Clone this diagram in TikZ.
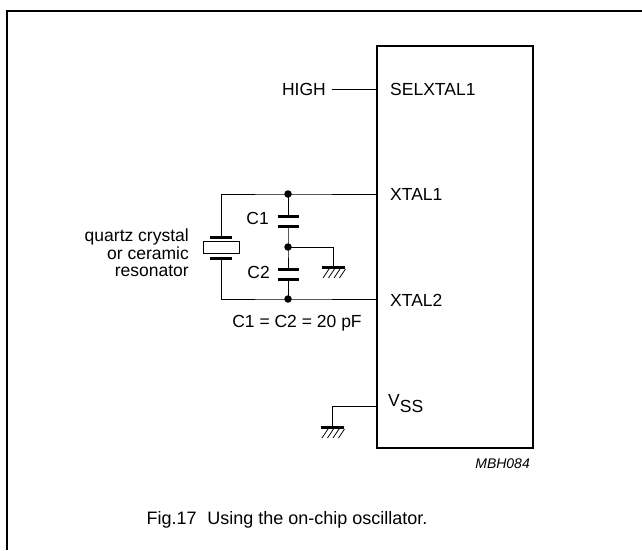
\documentclass[tikz,border=0pt]{standalone}
\usepackage{fontspec}
\setmainfont{Liberation Sans}
\begin{document}
\begin{tikzpicture}[x=1pt,y=-1pt,
  wire/.style={line width=1pt},
  chipbox/.style={line width=2.4pt},
  frameline/.style={line width=1.6pt},
  lbl/.style={font=\fontsize{17.5}{17.5}\selectfont, inner sep=0pt},
  capt/.style={font=\fontsize{18}{20}\selectfont, inner sep=0pt},
  code/.style={font=\fontsize{14}{14}\itshape, inner sep=0pt},
  junc/.style={circle, fill, inner sep=0pt, minimum size=7.5pt},
  plate/.style={line width=3pt},
  gnd/.pic={
    \draw[line width=3pt] (-11.5,0) -- (11.5,0);
    \foreach \i in {0,...,3} \draw[line width=0.8pt] (-10+5.5*\i,11) -- (-4+5.5*\i,2);
  }]
\useasboundingbox (0,0) rectangle (642,550);
% outer frame
\draw[frameline] (642,11) -- (7,11) -- (7,550);
% chip
\draw[chipbox] (377,46) rectangle (533,448);
\coordinate (pSel) at (377,89);
\coordinate (pX1) at (377,194);
\coordinate (pX2) at (377,299);
\coordinate (pVss) at (377,406);
\node[lbl, anchor=west] (tSel) at (390,89) {SELXTAL1};
\node[lbl, anchor=west] (tX1) at (390,194) {XTAL1};
\node[lbl, anchor=west] (tX2) at (390,300) {XTAL2};
\node[lbl, anchor=west] (tVss) at (388,404) {V\raisebox{-6pt}{SS}};
% HIGH
\node[lbl, anchor=east, inner xsep=6pt] (tHigh) at (332,89) {HIGH};
\draw[wire] (tHigh.east) -- (pSel);
% crystal network
\coordinate (nTop) at (288,194);
\coordinate (nMid) at (288,247);
\coordinate (nBot) at (288,299);
\coordinate (xTL) at (221,194);
\coordinate (xBL) at (221,299);
\coordinate (xT) at (221,237);
\coordinate (xB) at (221,258);
\coordinate (c1a) at (288,216);
\coordinate (c1b) at (288,226);
\coordinate (c2a) at (288,269);
\coordinate (c2b) at (288,279);
\coordinate (g1) at (333,267);
\coordinate (g2) at (332,427);
\draw[wire] (pX1) -- (nTop) -- (xTL) -- (xT);
\draw[wire] (pX2) -- (nBot) -- (xBL) -- (xB);
\node[draw, wire, minimum width=36pt, minimum height=12pt, inner sep=0pt] (xtal) at (221,247) {};
\draw[plate] ([xshift=-11pt]xT) -- ([xshift=11pt]xT);
\draw[plate] ([xshift=-11pt]xB) -- ([xshift=11pt]xB);
\draw[wire] (nTop) -- (c1a) (c1b) -- (nMid) -- (c2a) (c2b) -- (nBot);
\foreach \c in {c1a,c1b,c2a,c2b} \draw[plate] ([xshift=-10.5pt]\c) -- ([xshift=10.5pt]\c);
\draw[wire] (nMid) -| (g1);
\pic at (g1) {gnd};
\node[junc] (dTop) at (nTop) {};
\node[junc] (dMid) at (nMid) {};
\node[junc] (dBot) at (nBot) {};
\node[lbl, anchor=east] (tC1) at (269,218) {C1};
\node[lbl, anchor=east] (tC2) at (270,272) {C2};
\node[lbl] (tEq) at (297,323) {C1 = C2 = 20 pF};
\node[lbl, anchor=east, align=right] (tRes) at (189,253) {quartz crystal\\or ceramic\\resonator};
% Vss ground
\draw[wire] (pVss) -| (g2);
\pic at (g2) {gnd};
% code and caption
\node[code, anchor=east] (tCode) at (530,464) {MBH084};
\node[capt] (tCap) at (287,520) {Fig.17\hspace{0.6em}Using the on-chip oscillator.};
\end{tikzpicture}
\end{document}
